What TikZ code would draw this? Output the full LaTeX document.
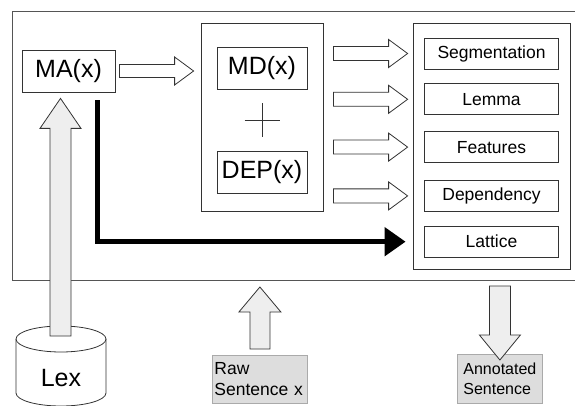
\documentclass[tikz,border=0pt]{standalone}
\usepackage{fontspec}
\setmainfont{Liberation Sans}
\usetikzlibrary{positioning,arrows.meta,calc}

\definecolor{framegray}{HTML}{555555}
\definecolor{boxline}{HTML}{333333}
\definecolor{arrowfill}{HTML}{EEEEEE}
\definecolor{notefill}{HTML}{DDDDDD}
\definecolor{noteline}{HTML}{AAAAAA}

% hollow block arrows: start, tip, shaft half width, head half width, head length
\newcommand{\hblock}[6][blockarrow]{%
  \coordinate (hb) at ($(#3)!#6!(#2)$);
  \draw[#1] ($(#2)+(0,-#4)$) -- ($(hb)+(0,-#4)$) -- ($(hb)+(0,-#5)$) -- (#3)
    -- ($(hb)+(0,#5)$) -- ($(hb)+(0,#4)$) -- ($(#2)+(0,#4)$) -- cycle;}
\newcommand{\vblock}[6][blockarrow]{%
  \coordinate (vb) at ($(#3)!#6!(#2)$);
  \draw[#1] ($(#2)+(-#4,0)$) -- ($(vb)+(-#4,0)$) -- ($(vb)+(-#5,0)$) -- (#3)
    -- ($(vb)+(#5,0)$) -- ($(vb)+(#4,0)$) -- ($(#2)+(#4,0)$) -- cycle;}

\begin{document}
\begin{tikzpicture}[
  x=1pt, y=-1pt,
  bigbox/.style = {draw=boxline, line width=0.8pt, inner sep=0pt,
    minimum width=90pt, minimum height=42pt, font=\fontsize{25}{28}\selectfont},
  outbox/.style = {draw=boxline, line width=0.8pt, inner sep=0pt,
    minimum width=134pt, minimum height=31pt, font=\fontsize{17.5}{20}\selectfont},
  note/.style = {draw=noteline, fill=notefill, line width=0.8pt, inner sep=2pt,
    align=left, anchor=north west},
  blockarrow/.style = {draw=boxline, line width=0.8pt, fill=white},
  grayarrow/.style = {blockarrow, fill=arrowfill}
]
  \useasboundingbox (0,0) rectangle (575,406);

  % frame (its right side runs off the page)
  \draw[framegray, line width=1pt] (575,12) -| (12,280) -- (575,280);
  \coordinate (framebl) at (12,280);

  \node[bigbox, minimum width=93pt] (ma) at (68.5,71) {MA(x)};

  \node[draw=boxline, line width=0.8pt, minimum width=122pt, minimum height=188pt] (mid) at (262,117) {};
  \node[bigbox, below=24pt of mid.north] (md) {MD(x)};
  \node[bigbox, above=18pt of mid.south] (dep) {DEP(x)};
  \coordinate (plus) at ($(md.south)!0.5!(dep.north)$);
  \draw[boxline, line width=0.8pt] ([xshift=-17.5pt]plus) -- ([xshift=17.5pt]plus)
    ([yshift=-17pt]plus) -- ([yshift=17pt]plus);

  \node[draw=boxline, line width=0.8pt, minimum width=157pt, minimum height=246pt] (out) at (491.5,146) {};
  \node[outbox, below=15pt of out.north] (seg) {Segmentation};
  \node[outbox, below=14pt of seg] (lem) {Lemma};
  \node[outbox, below=16pt of lem] (feat) {Features};
  \node[outbox, below=17pt of feat] (dpd) {Dependency};
  \node[outbox, below=14pt of dpd] (lat) {Lattice};

  % MA -> middle box
  \coordinate (maout) at ([xshift=4pt]ma.east);
  \coordinate (midin) at ([xshift=-7pt]mid.west |- ma.east);
  \hblock{maout}{midin}{6.5}{14}{19pt}

  % middle box -> outputs
  \foreach \b in {seg,lem,feat,dpd} {
    \coordinate (s\b) at ([xshift=10pt]mid.east |- \b.west);
    \coordinate (t\b) at ([xshift=-5pt]out.west |- \b.west);
    \hblock{s\b}{t\b}{7}{14}{19pt}
  }

  % lattice straight from MA
  \draw[line width=5pt, -{Triangle[length=21pt,width=28pt]}, shorten >=7pt]
    ([xshift=-18pt,yshift=-8pt]ma.south east) |- (out.west |- lat.west);

  % lexicon
  \draw[boxline, line width=0.8pt, fill=white] (16,339) -- (16,393)
    arc[start angle=180, end angle=0, x radius=45, y radius=13] -- (106,339);
  \draw[boxline, line width=0.8pt, fill=white] (61,339) ellipse [x radius=45, y radius=13];
  \coordinate (lexcap) at (60.5,339);
  \node[font=\fontsize{25}{28}\selectfont] (lex) at (61,378) {Lex};
  \coordinate (lexout) at ([yshift=3pt]lexcap);
  \coordinate (lexin) at ([yshift=-6pt]lexcap |- ma.south);
  \vblock[grayarrow]{lexout}{lexin}{10.5}{20.5}{30pt}

  % input and output sentences
  \node[note, text width=91pt, minimum height=48pt, font=\fontsize{17.5}{21}\selectfont] (raw) at (212,355)
    {Raw\\Sentence x};
  \coordinate (rawout) at ([yshift=6pt]raw.north);
  \coordinate (rawin) at ([yshift=-7pt]raw.north |- framebl);
  \vblock[grayarrow]{rawout}{rawin}{10}{21}{25pt}

  \node[note, inner sep=5pt, minimum width=85pt, minimum height=49pt, font=\fontsize{16}{20}\selectfont] (ann) at (457,354)
    {Annotated\\Sentence};
  \coordinate (annin) at ([yshift=-6pt]ann.north);
  \coordinate (annout) at ([yshift=-6pt]ann.north |- framebl);
  \vblock[grayarrow]{annout}{annin}{10.5}{20.5}{25pt}
\end{tikzpicture}
\end{document}
